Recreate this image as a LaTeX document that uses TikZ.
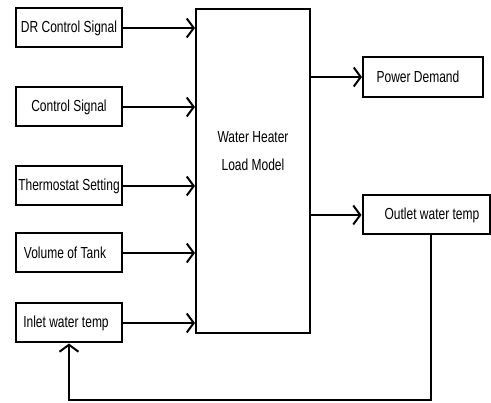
\documentclass[tikz,border=0pt]{standalone}
\usepackage{fontspec}
\setmainfont{Liberation Sans}[FakeStretch=0.75]
\usetikzlibrary{positioning,arrows.meta}

\begin{document}
\begin{tikzpicture}[%
    x=1pt,y=1pt,->,>={Straight Barb[length=7pt,width=19pt]},line width=2pt,
    inbox/.style={%
      rectangle,minimum width=106pt,minimum height=39pt,inner sep=0pt,draw,
      font=\fontsize{16}{18}\selectfont},
    outbox/.style={%
      inbox,minimum height=40pt},
    modelbox/.style={%
      rectangle,minimum width=114pt,minimum height=324pt,inner sep=0pt,draw}
  ]
    \useasboundingbox (0,0) rectangle (491,-403);
    \node[inbox] (dr)     at (69,-28)  {DR Control Signal};
    \node[inbox] (ctrl)   at (69,-107) {Control Signal};
    \node[inbox] (thermo) at (69,-186) {Thermostat Setting};
    \node[inbox] (vol)    at (69,-253) {\hspace*{-8pt}Volume of Tank};
    \node[inbox] (inlet)  at (69,-323) {\hspace*{-6pt}Inlet water temp};
    \node[modelbox] (model) at (253,-171) {};
    \node[align=center,font=\fontsize{16}{28}\selectfont] (modeltxt) at (253,-151)
      {Water Heater\\Load Model};
    \node[outbox,minimum width=120pt] (power)  at (423,-77)  {\hspace*{-10pt}Power Demand};
    \node[outbox,minimum width=127pt,minimum height=39pt] (outlet) at (426,-215)
      {\hspace*{12pt}Outlet water temp};
    \coordinate (fb) at (431,-400);
    \path (dr)     edge (dr -| model.west)
          (ctrl)   edge (ctrl -| model.west)
          (thermo) edge (thermo -| model.west)
          (vol)    edge (vol -| model.west)
          (inlet)  edge (inlet -| model.west)
          (model.east |- power)  edge (power)
          (model.east |- outlet) edge (outlet)
          ;
    \draw (fb |- outlet.south) -- (fb) -| (inlet.south);
  \end{tikzpicture}
\end{document}
